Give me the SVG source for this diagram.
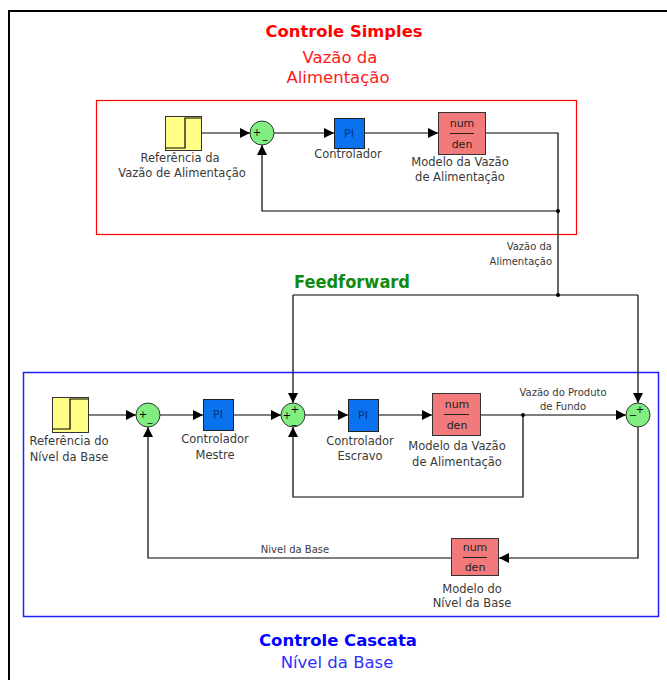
<svg xmlns="http://www.w3.org/2000/svg" width="667" height="680" viewBox="0 0 667 680">
<defs>
<marker id="arr" viewBox="0 0 10 10" refX="10" refY="5" markerWidth="10" markerHeight="10" markerUnits="userSpaceOnUse" orient="auto"><path d="M0,0 L10,5 L0,10 Z" fill="#000"/></marker>
</defs>
<style>
.lbl{font-family:"DejaVu Sans",sans-serif;font-size:11.5px;fill:#3a3a3a;text-anchor:middle}
.sm{font-family:"DejaVu Sans",sans-serif;font-size:10px;fill:#3a3a3a;text-anchor:middle}
.wire{fill:none;stroke:#000;stroke-width:1.2}
.aw{fill:none;stroke:#000;stroke-width:1.2;marker-end:url(#arr)}
.step{fill:#ffff88;stroke:#333;stroke-width:1}
.pi{fill:#0a72ee;stroke:#222;stroke-width:1}
.pit{font-family:"DejaVu Sans",sans-serif;font-size:11px;fill:#00357a;text-anchor:middle}
.tf{fill:#f27a7a;stroke:#333;stroke-width:1}
.tft{font-family:"DejaVu Sans",sans-serif;font-size:11px;fill:#222;text-anchor:middle}
.sum{fill:#80ee80;stroke:#333;stroke-width:1}
.sg{font-family:"DejaVu Sans",sans-serif;font-size:10px;fill:#000;text-anchor:middle}
.dot{fill:#000}
</style>
<rect width="667" height="680" fill="#fff"/>
<path d="M8,11 H667 M9,11 V680" fill="none" stroke="#000" stroke-width="2"/>

<g id="titles">
<text x="344" y="37" font-family="DejaVu Sans,sans-serif" font-weight="bold" font-size="16" fill="#ff0000" text-anchor="middle" textLength="157" lengthAdjust="spacingAndGlyphs">Controle Simples</text>
<text x="340" y="63" font-family="DejaVu Sans,sans-serif" font-size="16.5" fill="#ff1a1a" text-anchor="middle">Vazão da</text>
<text x="338" y="83" font-family="DejaVu Sans,sans-serif" font-size="16.5" fill="#ff1a1a" text-anchor="middle">Alimentação</text>
<text x="352" y="288" font-family="DejaVu Sans,sans-serif" font-weight="bold" font-size="17" fill="#128a12" text-anchor="middle" textLength="116" lengthAdjust="spacingAndGlyphs">Feedforward</text>
<text x="338" y="646" font-family="DejaVu Sans,sans-serif" font-weight="bold" font-size="16" fill="#0000ff" text-anchor="middle" textLength="158" lengthAdjust="spacingAndGlyphs">Controle Cascata</text>
<text x="337" y="668" font-family="DejaVu Sans,sans-serif" font-size="16.5" fill="#3030ff" text-anchor="middle">Nível da Base</text>
</g>

<g id="frames">
<rect x="96.5" y="100.5" width="480" height="134" fill="none" stroke="#ff0000" stroke-width="1.2"/>
<rect x="23.5" y="372.5" width="635" height="244" fill="none" stroke="#2020ff" stroke-width="1.5"/>
</g>

<g id="connectors">
<path class="aw" d="M202,133 H250"/>
<path class="aw" d="M274,133 H334"/>
<path class="aw" d="M365,133 H438"/>
<path class="wire" d="M486,133 H558 V295"/>
<path class="aw" d="M558,211 H262 V145"/>
<path class="wire" d="M293,295 H638"/>
<path class="aw" d="M293,295 V403"/>
<path class="aw" d="M638,295 V403"/>
<path class="aw" d="M88,415 H136"/>
<path class="aw" d="M160,415 H203"/>
<path class="aw" d="M233,415 H281"/>
<path class="aw" d="M305,415 H348"/>
<path class="aw" d="M378,415 H432"/>
<path class="aw" d="M481,415 H626"/>
<path class="aw" d="M523,415 V497 H293 V427"/>
<path class="aw" d="M638,427 V558 H499"/>
<path class="aw" d="M451,558 H148 V427"/>
<circle class="dot" cx="558" cy="211" r="2"/>
<circle class="dot" cx="558" cy="295" r="2"/>
<circle class="dot" cx="523" cy="415" r="2"/>
<text class="sm" x="552" y="250" style="text-anchor:end">Vazão da</text>
<text class="sm" x="552" y="265" style="text-anchor:end">Alimentação</text>
<text class="sm" x="563" y="396">Vazão do Produto</text>
<text class="sm" x="563" y="410">de Fundo</text>
<text class="sm" x="295" y="553">Nivel da Base</text>
</g>

<g id="ref1">
<rect class="step" x="165.5" y="116.5" width="36" height="34"/>
<path d="M166,148 H185 V118 H201" fill="none" stroke="#000" stroke-width="1.2"/>
<text class="lbl" x="180" y="162">Referência da</text>
<text class="lbl" x="182" y="177">Vazão de Alimentação</text>
</g>
<g id="sum1">
<circle class="sum" cx="262" cy="133" r="12"/>
<text class="sg" x="257" y="136">+</text>
<text class="sg" x="265" y="138">_</text>
</g>
<g id="pi1">
<rect class="pi" x="334.5" y="118.5" width="30" height="30"/>
<text class="pit" x="349" y="137">PI</text>
<text class="lbl" x="348" y="158">Controlador</text>
</g>
<g id="tf1">
<rect class="tf" x="438.5" y="112.5" width="47" height="42"/>
<text class="tft" x="462" y="127">num</text>
<path d="M450,133.5 H474" stroke="#222" stroke-width="1"/>
<text class="tft" x="462" y="148">den</text>
<text class="lbl" x="460" y="166">Modelo da Vazão</text>
<text class="lbl" x="460" y="181">de Alimentação</text>
</g>

<g id="ref2">
<rect class="step" x="52.5" y="397.5" width="36" height="35"/>
<path d="M53,429 H70 V399 H88" fill="none" stroke="#000" stroke-width="1.2"/>
<text class="lbl" x="69" y="445">Referência do</text>
<text class="lbl" x="69" y="461">Nível da Base</text>
</g>
<g id="sumA">
<circle class="sum" cx="148" cy="415" r="12"/>
<text class="sg" x="143" y="418">+</text>
<text class="sg" x="150" y="421">_</text>
</g>
<g id="piMestre">
<rect class="pi" x="203.5" y="399.5" width="30" height="31"/>
<text class="pit" x="218" y="418">PI</text>
<text class="lbl" x="215" y="443">Controlador</text>
<text class="lbl" x="215" y="459">Mestre</text>
</g>
<g id="sumB">
<circle class="sum" cx="293" cy="415" r="12"/>
<text class="sg" x="295" y="413">+</text>
<text class="sg" x="287" y="419">+</text>
<text class="sg" x="294" y="423">_</text>
</g>
<g id="piEscravo">
<rect class="pi" x="348.5" y="399.5" width="30" height="32"/>
<text class="pit" x="363" y="419">PI</text>
<text class="lbl" x="360" y="445">Controlador</text>
<text class="lbl" x="360" y="460">Escravo</text>
</g>
<g id="tf2">
<rect class="tf" x="432.5" y="393.5" width="48" height="42"/>
<text class="tft" x="457" y="408">num</text>
<path d="M444,414.5 H469" stroke="#222" stroke-width="1"/>
<text class="tft" x="457" y="429">den</text>
<text class="lbl" x="457" y="450">Modelo da Vazão</text>
<text class="lbl" x="457" y="466">de Alimentação</text>
</g>
<g id="sumC">
<circle class="sum" cx="638" cy="415" r="12"/>
<text class="sg" x="640" y="413">+</text>
<text class="sg" x="633" y="419">−</text>
</g>
<g id="tf3">
<rect class="tf" x="451.5" y="538.5" width="47" height="37"/>
<text class="tft" x="475" y="551">num</text>
<path d="M463,557.5 H487" stroke="#222" stroke-width="1"/>
<text class="tft" x="475" y="571">den</text>
<text class="lbl" x="472" y="593">Modelo do</text>
<text class="lbl" x="472" y="607">Nível da Base</text>
</g>
</svg>
